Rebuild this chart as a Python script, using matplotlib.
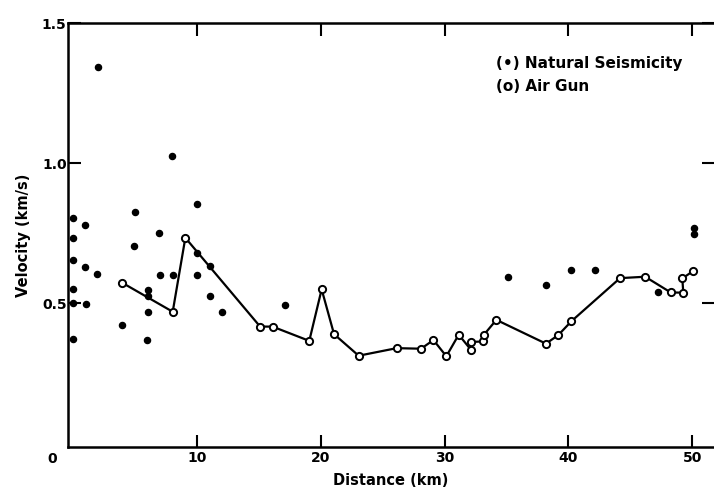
import matplotlib
matplotlib.use("Agg")
import matplotlib.pyplot as plt

# Natural seismicity (filled dots), distance in km, velocity in km/s
seis_dist = [2.0, 7.96, 9.97, 0.0, 0.98, 4.97, 6.96, 0.0, 4.89,
             0.0, 0.98, 1.95, 7.02, 8.04, 10.03, 9.98, 11.05,
             0.0, 0.0, 1.03, 6.02, 6.02, 6.04, 6.0, 3.94, 0.0,
             11.05, 12.04, 17.1, 35.12, 38.19, 40.19, 42.17, 47.26,
             50.12, 50.12]
seis_vel = [1.343, 1.025, 0.856, 0.806, 0.781, 0.826, 0.751, 0.732, 0.706,
            0.655, 0.629, 0.605, 0.601, 0.601, 0.601, 0.681, 0.633,
            0.551, 0.500, 0.497, 0.548, 0.526, 0.470, 0.369, 0.422, 0.371,
            0.526, 0.470, 0.493, 0.594, 0.566, 0.618, 0.620, 0.541,
            0.768, 0.746]

# Air gun (open circles joined by a line)
gun_dist = [3.94, 8.04, 9.06, 15.1, 16.1, 19.07, 20.07, 21.07, 23.06,
            26.13, 28.1, 29.1, 30.14, 31.14, 32.15, 32.1, 33.13, 33.18,
            34.18, 38.19, 39.19, 40.24, 44.17, 46.2, 48.26, 49.28, 49.2, 50.1]
gun_vel = [0.574, 0.470, 0.734, 0.417, 0.417, 0.366, 0.550, 0.390, 0.313,
           0.340, 0.338, 0.369, 0.311, 0.388, 0.333, 0.362, 0.364, 0.388,
           0.441, 0.356, 0.387, 0.436, 0.590, 0.595, 0.539, 0.538, 0.589, 0.616]

x_ticks = [10, 20, 30, 40, 50]
y_ticks = [0.5, 1.0, 1.5]
y_ticklabels = ["0.5", "1.0", "1.5"]

plt.rcParams["font.family"] = "DejaVu Sans"
plt.rcParams["font.weight"] = "bold"

fig = plt.figure(figsize=(7.14, 4.92), dpi=100)
ax = fig.add_axes([0.0952, 0.092, 0.9048, 0.8607])

ax.plot(gun_dist, gun_vel, "-", color="black", lw=1.6, zorder=2)
ax.plot(gun_dist, gun_vel, "o", mfc="white", mec="black", mew=1.4,
        ms=5.2, zorder=3)
ax.plot(seis_dist, seis_vel, "o", color="black", ms=4.4, zorder=4,
        linestyle="none")

ax.set_xlim(-0.42, 51.76)
ax.set_ylim(-0.012, 1.5)

ax.set_xticks(x_ticks)
ax.set_xticklabels([str(t) for t in x_ticks], fontsize=10, fontweight="bold")
ax.set_yticks(y_ticks)
ax.set_yticklabels(y_ticklabels, fontsize=10, fontweight="bold")
ax.tick_params(axis="both", direction="in", length=9, width=1.5,
               top=True, right=True, pad=3)
ax.tick_params(axis="y", pad=1)

for side in ["left", "bottom", "top"]:
    ax.spines[side].set_linewidth(1.8)
ax.spines["right"].set_visible(False)

# origin label sits left of the axis corner
ax.text(-0.025, -0.029, "0", transform=ax.transAxes, fontsize=10,
        fontweight="bold", ha="center", va="center")

ax.set_xlabel("Distance (km)", fontsize=10.5, fontweight="bold", labelpad=6)
ax.set_ylabel("Velocity (km/s)", fontsize=10.5, fontweight="bold", labelpad=8)

ax.text(0.662, 0.9055, "(\u2022) Natural Seismicity", transform=ax.transAxes,
        fontsize=11, fontweight="bold", va="center", ha="left")
ax.text(0.662, 0.850, "(o) Air Gun", transform=ax.transAxes,
        fontsize=11, fontweight="bold", va="center", ha="left")

fig.savefig("out.png", dpi=100)
